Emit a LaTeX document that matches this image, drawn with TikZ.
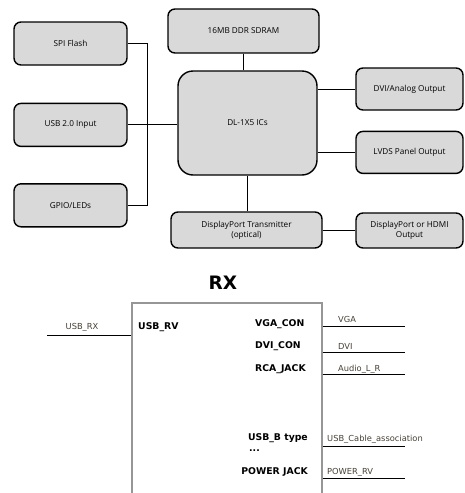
\documentclass[tikz,border=0pt]{standalone}
\usepackage{fontspec}
\setsansfont{Open Sans}
\newfontfamily\rxfont{DejaVu Sans}
\usetikzlibrary{positioning}
\definecolor{boxgray}{RGB}{217,217,217}
\definecolor{rxgray}{RGB}{150,150,150}
\definecolor{nettext}{RGB}{70,65,55}

\begin{document}
\begin{tikzpicture}[x=1pt, y=-1pt, font=\sffamily\fontsize{8.2}{9.8}\selectfont,
  blockbox/.style={rectangle, draw=black, line width=1.4pt, fill=boxgray, rounded corners=7pt, align=center, inner sep=0pt},
  wire/.style={draw=black, line width=1pt},
  pinlabel/.style={font=\rxfont\bfseries\fontsize{9.3}{11}\selectfont, inner sep=0pt},
  netlabel/.style={text=nettext, font=\rxfont\fontsize{8.3}{10}\selectfont, inner sep=0pt}]
  \useasboundingbox (0,0) rectangle (465,493);
  % block diagram
  \node[blockbox, minimum width=113pt, minimum height=43pt] (spi) at (70.5,43.5) {SPI Flash};
  \node[blockbox, minimum width=113pt, minimum height=43pt, below=37pt of spi] (usb) {USB 2.0 Input};
  \node[blockbox, minimum width=113pt, minimum height=43pt, below=36pt of usb] (gpio) {GPIO/LEDs};
  \node[blockbox, minimum width=151pt, minimum height=44pt] (ddr) at (243.5,31) {16MB DDR SDRAM};
  \node[blockbox, rounded corners=15pt, minimum width=139pt, minimum height=104pt] (core) at (247.5,123) {DL-1X5 ICs};
  \node[blockbox, minimum width=107pt, minimum height=42pt] (dvi) at (409.5,89) {DVI/Analog Output};
  \node[blockbox, minimum width=107pt, minimum height=42pt, below=20pt of dvi] (lvds) {LVDS Panel Output};
  \node[blockbox, minimum width=151pt, minimum height=36pt] (dptx) at (246.5,230) {DisplayPort Transmitter\\(optical)};
  \node[blockbox, minimum width=107pt, minimum height=35pt] (dpout) at (409.5,230.5) {DisplayPort or HDMI\\Output};
  \coordinate (bus) at (147,0);
  \draw[wire] (spi.east) -- (spi.east -| bus) -- (gpio.east -| bus) -- (gpio.east);
  \draw[wire] (usb.east) -- (usb.east -| core.west);
  \draw[wire] (ddr.south) -- (ddr.south |- core.north);
  \draw[wire] (core.south) -- (core.south |- dptx.north);
  \draw[wire] (core.east |- dvi.west) -- (dvi.west);
  \draw[wire] (core.east |- lvds.west) -- (lvds.west);
  \draw[wire] (dptx.east) -- (dptx.east -| dpout.west);

  % RX connector block
  \node[font=\rxfont\bfseries\fontsize{18.5}{20}\selectfont] (rxtitle) at (223,283) {RX};
  \node[draw=rxgray, line width=1.5pt, minimum width=190pt, minimum height=220pt, anchor=north west, inner sep=0pt] (rx) at (131,302) {};
  \node[pinlabel, anchor=west] (usbrv) at (138,327) {USB\_RV};
  \node[pinlabel, anchor=west] (vgacon) at (255,324) {VGA\_CON};
  \node[pinlabel, anchor=west] (dvicon) at (255,346) {DVI\_CON};
  \node[pinlabel, anchor=west] (rcajack) at (255,369) {RCA\_JACK};
  \node[pinlabel, anchor=east] (usbb) at (308,438) {USB\_B type};
  \node[pinlabel, anchor=base west, text height=1.5pt, text depth=0pt] (usbdots) at (249,451) {...};
  \node[pinlabel, anchor=east] (pwrjack) at (308,472) {POWER JACK};
  \node[netlabel] (usbrx) at (82,327) {USB\_RX};
  \node[netlabel, anchor=west] (vga) at (338,319) {VGA};
  \node[netlabel, anchor=west] (dvinet) at (338,346) {DVI};
  \node[netlabel, anchor=west] (audio) at (338,369) {Audio\_L\_R};
  \node[netlabel, anchor=west] (usbcable) at (327,439) {USB\_Cable\_association};
  \node[netlabel, anchor=west] (pwrrv) at (327,472) {POWER\_RV};
  \coordinate (usbrxend) at (47,335);
  \draw[wire, line width=0.8pt] (usbrxend) -- (usbrxend -| rx.west);
  \foreach \sig/\yy in {vga/326, dvi/352, rca/374, usbc/446, pwr/478} {
    \coordinate (\sig end) at (405,\yy);
    \draw[wire, line width=0.8pt] (\sig end -| rx.east) -- (\sig end);
  }
\end{tikzpicture}
\end{document}
